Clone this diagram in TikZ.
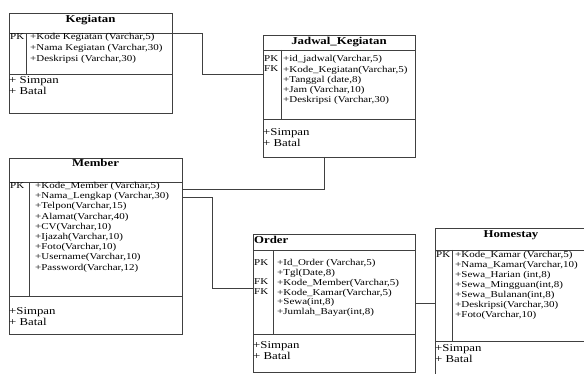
\documentclass[tikz,border=0pt]{standalone}
\usepackage{fontspec}
\setmainfont[FakeStretch=1.22]{Liberation Serif}

\begin{document}
\begin{tikzpicture}[x=1pt, y=-1pt,
    box/.style={draw=black!75, line width=0.9pt, inner sep=0pt, outer sep=0pt, anchor=north west},
    ttl/.style={font=\fontsize{10.5}{12}\selectfont\bfseries, inner sep=0pt, anchor=north},
    rows/.style={font=\fontsize{9}{#1}\selectfont, inner sep=0pt, anchor=north west, align=left},
    rows/.default=10.2,
    ops/.style={font=\fontsize{10.5}{11}\selectfont, inner sep=0pt, anchor=north west, align=left},
    link/.style={draw=black!75, line width=0.9pt}]
    \useasboundingbox (0,0) rectangle (584,374);
    % Kegiatan
    \node[box, minimum width=163, minimum height=20] (keg) at (9,13) {};
    \node[box, minimum width=163, minimum height=41] (keg-a) at (keg.south west) {};
    \node[box, minimum width=163, minimum height=39] (keg-m) at (keg-a.south west) {};
    \draw[link] ([xshift=17]keg-a.north west) -- ([xshift=17]keg-a.south west);
    \node[ttl] (keg-t) at ([yshift=-2]keg.north) {Kegiatan};
    \node[rows=10.8] (keg-k) at ([xshift=1,yshift=-0.5]keg-a.north west) {PK};
    \node[rows=10.8] (keg-f) at ([xshift=21,yshift=-0.5]keg-a.north west) {+Kode Kegiatan (Varchar,5)\\+Nama Kegiatan (Varchar,30)\\+Deskripsi (Varchar,30)};
    \node[ops] (keg-o) at ([yshift=-2]keg-m.north west) {+ Simpan\\+ Batal};
    % Jadwal_Kegiatan
    \node[box, minimum width=152, minimum height=15] (jad) at (263,35) {};
    \node[box, minimum width=152, minimum height=69] (jad-a) at (jad.south west) {};
    \node[box, minimum width=152, minimum height=38] (jad-m) at (jad-a.south west) {};
    \draw[link] ([xshift=18]jad-a.north west) -- ([xshift=18]jad-a.south west);
    \node[ttl] (jad-t) at ([yshift=-2]jad.north) {Jadwal\_Kegiatan};
    \node[rows] (jad-k) at ([xshift=1,yshift=-5.5]jad-a.north west) {PK\\FK};
    \node[rows] (jad-f) at ([xshift=20,yshift=-5.5]jad-a.north west) {+id\_jadwal(Varchar,5)\\+Kode\_Kegiatan(Varchar,5)\\+Tanggal (date,8)\\+Jam (Varchar,10)\\+Deskripsi (Varchar,30)};
    \node[ops] (jad-o) at ([yshift=-9]jad-m.north west) {+Simpan\\+ Batal};
    % Member
    \node[box, minimum width=173, minimum height=24] (mem) at (9,158) {};
    \node[box, minimum width=173, minimum height=114] (mem-a) at (mem.south west) {};
    \node[box, minimum width=173, minimum height=38] (mem-m) at (mem-a.south west) {};
    \draw[link] ([xshift=20]mem-a.north west) -- ([xshift=20]mem-a.south west);
    \node[ttl] (mem-t) at ([yshift=-1]mem.north) {Member};
    \node[rows] (mem-k) at ([xshift=1,yshift=0]mem-a.north west) {PK};
    \node[rows] (mem-f) at ([xshift=26,yshift=0]mem-a.north west) {+Kode\_Member (Varchar,5)\\+Nama\_Lengkap (Varchar,30)\\+Telpon(Varchar,15)\\+Alamat(Varchar,40)\\+CV(Varchar,10)\\+Ijazah(Varchar,10)\\+Foto(Varchar,10)\\+Username(Varchar,10)\\+Password(Varchar,12)};
    \node[ops] (mem-o) at ([yshift=-11]mem-m.north west) {+Simpan\\+ Batal};
    % Order
    \node[box, minimum width=162, minimum height=16] (ord) at (253,234) {};
    \node[box, minimum width=162, minimum height=84] (ord-a) at (ord.south west) {};
    \node[box, minimum width=162, minimum height=38] (ord-m) at (ord-a.south west) {};
    \draw[link] ([xshift=20]ord-a.north west) -- ([xshift=20]ord-a.south west);
    \node[ttl, anchor=north west] (ord-t) at ([xshift=1,yshift=-2.5]ord.north west) {Order};
    \node[rows=9.7] (ord-k) at ([xshift=1,yshift=-9.5]ord-a.north west) {PK\\\mbox{}\\FK\\FK};
    \node[rows=9.7] (ord-f) at ([xshift=24,yshift=-9.5]ord-a.north west) {+Id\_Order (Varchar,5)\\+Tgl(Date,8)\\+Kode\_Member(Varchar,5)\\+Kode\_Kamar(Varchar,5)\\+Sewa(int,8)\\+Jumlah\_Bayar(int,8)};
    \node[ops] (ord-o) at ([yshift=-7]ord-m.north west) {+Simpan\\+ Batal};
    % Homestay
    \node[box, minimum width=152, minimum height=22] (hom) at (435,228) {};
    \node[box, minimum width=152, minimum height=91] (hom-a) at (hom.south west) {};
    \node[box, minimum width=152, minimum height=40] (hom-m) at (hom-a.south west) {};
    \draw[link] ([xshift=17]hom-a.north west) -- ([xshift=17]hom-a.south west);
    \node[ttl] (hom-t) at ([yshift=-2]hom.north) {Homestay};
    \node[rows=10] (hom-k) at ([xshift=1,yshift=-1]hom-a.north west) {PK};
    \node[rows=10] (hom-f) at ([xshift=20,yshift=-1]hom-a.north west) {+Kode\_Kamar (Varchar,5)\\+Nama\_Kamar(Varchar,10)\\+Sewa\_Harian (int,8)\\+Sewa\_Mingguan(int,8)\\+Sewa\_Bulanan(int,8)\\+Deskripsi(Varchar,30)\\+Foto(Varchar,10)};
    \node[ops] (hom-o) at ([yshift=-3]hom-m.north west) {+Simpan\\+ Batal};
    % relasi
    \coordinate (kj) at (202,74);
    \draw[link] (keg-a.north east) -| (kj) -- (kj -| jad-a.west);
    \coordinate (jm) at (324,189);
    \draw[link] (jad-m.south -| jm) -- (jm) -- (jm -| mem-a.east);
    \coordinate (mo) at (212,288);
    \draw[link] ([yshift=-15]mem-a.north east) -| (mo) -- (mo -| ord-a.west);
    \coordinate (oh) at (424,303);
    \draw[link] (oh -| ord-a.east) -- (oh -| hom-a.west);
\end{tikzpicture}
\end{document}
